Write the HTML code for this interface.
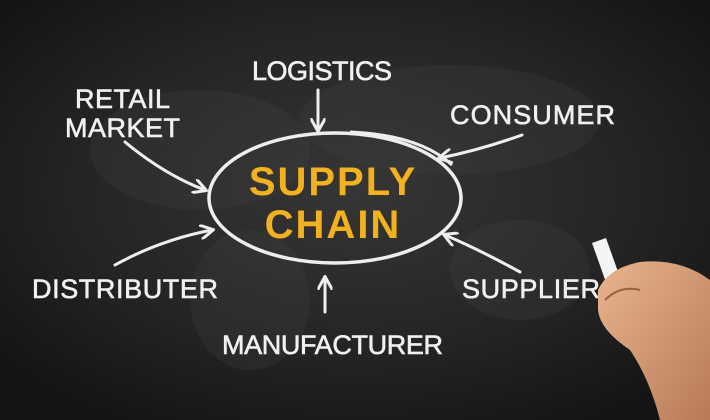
<!DOCTYPE html>
<html><head><style>
html,body{margin:0;padding:0;background:#1c1c1c;}
svg{display:block}
text{font-family:"Liberation Sans",sans-serif;font-weight:bold;}
</style></head><body>
<svg width="710" height="420" viewBox="0 0 710 420" xmlns="http://www.w3.org/2000/svg">
<defs>
<radialGradient id="bg" cx="50%" cy="45%" r="65%">
<stop offset="0" stop-color="#363636"/><stop offset="0.6" stop-color="#242424"/><stop offset="1" stop-color="#141414"/>
</radialGradient>
<linearGradient id="skin" x1="0" y1="0" x2="1" y2="1">
<stop offset="0" stop-color="#e8b48e"/><stop offset="1" stop-color="#b87a58"/>
</linearGradient>
<marker id="ah" viewBox="0 0 10 10" refX="8" refY="5" markerWidth="5" markerHeight="5" orient="auto">
<path d="M0,0 L9,5 L0,10" fill="none" stroke="#eee" stroke-width="2"/>
</marker>
</defs>
<rect width="710" height="420" fill="url(#bg)"/>
<g fill="#444" opacity="0.25">
<ellipse cx="200" cy="150" rx="110" ry="60"/>
<ellipse cx="450" cy="120" rx="150" ry="55"/>
<ellipse cx="250" cy="300" rx="60" ry="70"/>
<ellipse cx="520" cy="270" rx="70" ry="50"/>
</g>
<ellipse cx="335" cy="198" rx="126" ry="65" fill="none" stroke="#eee" stroke-width="3.5"/>
<path d="M350 132 Q420 135 452 165" fill="none" stroke="#eee" stroke-width="3"/>
<text x="333" y="195" text-anchor="middle" fill="#f2b11e" font-size="40" letter-spacing="2">SUPPLY</text>
<text x="333" y="238" text-anchor="middle" fill="#f2b11e" font-size="40" letter-spacing="2">CHAIN</text>
<g fill="#f0f0f0" font-size="27" stroke="#f0f0f0" stroke-width="0.6">
<text x="252" y="80" textLength="140" style="font-weight:normal">LOGISTICS</text>
<text x="75" y="108" textLength="95" style="font-weight:normal">RETAIL</text>
<text x="65" y="137" textLength="115" style="font-weight:normal">MARKET</text>
<text x="450" y="124" textLength="165" style="font-weight:normal">CONSUMER</text>
<text x="32" y="298" textLength="186" style="font-weight:normal">DISTRIBUTER</text>
<text x="462" y="298" textLength="138" style="font-weight:normal">SUPPLIER</text>
<text x="222" y="354" textLength="221" style="font-weight:normal">MANUFACTURER</text>
</g>
<g stroke="#eee" stroke-width="3" fill="none" marker-end="url(#ah)" stroke-linecap="round">
<path d="M318 90 L318 130"/>
<path d="M125 142 Q165 175 205 190"/>
<path d="M522 135 Q480 150 440 158"/>
<path d="M115 265 Q160 240 212 230"/>
<path d="M520 272 Q480 250 445 235"/>
<path d="M325 312 L325 278"/>
</g>
<path d="M592 243 L606 238 L622 283 L608 288 Z" fill="#f4f4f4"/>
<path d="M598 290 Q608 268 640 262 Q680 258 710 280 L710 420 L660 420 Q650 380 630 350 Q600 330 598 310 Z" fill="url(#skin)"/>
<path d="M605 300 Q620 285 640 290" fill="none" stroke="#9a6040" stroke-width="2"/>
</svg>
</body></html>
